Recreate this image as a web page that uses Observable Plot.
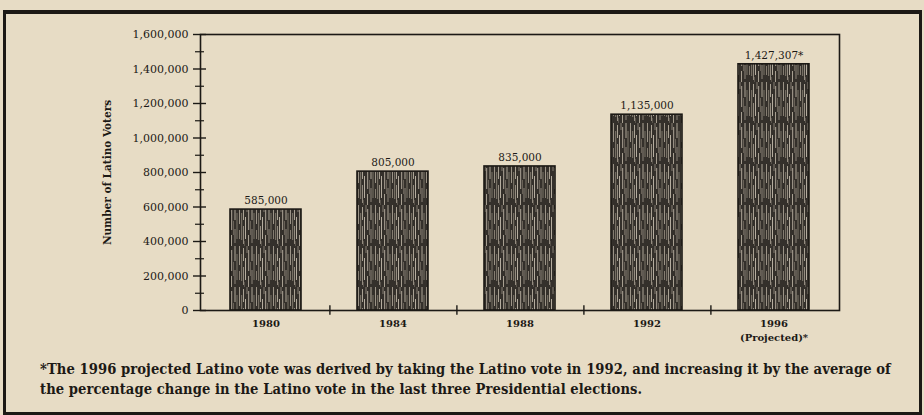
<!DOCTYPE html>
<html>
<head>
<meta charset="utf-8">
<script src="https://cdn.jsdelivr.net/npm/d3@7"></script>
<script src="https://cdn.jsdelivr.net/npm/@observablehq/plot@0.6"></script>
<style>
  html, body { margin: 0; padding: 0; background: #e7dcc5; }
  body { width: 924px; height: 415px; position: relative; overflow: hidden; font-family: "DejaVu Serif Condensed", "DejaVu Serif", serif; color: #1c1915; }
  #box { position: absolute; left: 3px; top: 10px; width: 913px; height: 398px; border: 3px solid #1c1915; border-top-width: 4px; }
  #chart { position: absolute; left: 0; top: 0; }
  #note { position: absolute; left: 40px; top: 359px; width: 880px; font-size: 14.6px; font-weight: bold; line-height: 20px; letter-spacing: 0.08px; white-space: nowrap; }
</style>
</head>
<body>
<div id="box"></div>
<div id="chart"></div>
<div id="note">*The 1996 projected Latino vote was derived by taking the Latino vote in 1992, and increasing it by the average of<br>the percentage change in the Latino vote in the last three Presidential elections.</div>
<script>
const years = ["1980", "1984", "1988", "1992", "1996"];
const voters = [585000, 805000, 835000, 1135000, 1427307];
const valueLabels = ["585,000", "805,000", "835,000", "1,135,000", "1,427,307*"];
const yearLabels = ["1980", "1984", "1988", "1992", "1996\n(Projected)*"];
const majorTicks = [0, 200000, 400000, 600000, 800000, 1000000, 1200000, 1400000, 1600000];
const minorTicks = [100000, 300000, 500000, 700000, 900000, 1100000, 1300000, 1500000];
const yLabel = "Number of Latino Voters";

const data = years.map((y, i) => ({year: y, value: voters[i], label: valueLabels[i]}));

const W = 924, H = 345, mL = 200, mR = 85, mT = 34, mB = 35;
const halfStep = (W - mL - mR) / years.length / 2;
const ink = "#1c1915";
const font = "'DejaVu Serif', serif";

const chart = Plot.plot({
  width: W, height: H,
  marginLeft: mL, marginRight: mR, marginTop: mT, marginBottom: mB,
  style: {background: "transparent", fontFamily: font, color: ink, overflow: "visible"},
  x: {domain: years, paddingInner: 0.44, paddingOuter: 0.22},
  y: {domain: [0, 1600000]},
  marks: [
    Plot.rectY(data, {x: "year", y: "value", fill: "url(#hatch)", stroke: ink, strokeWidth: 1.6}),
    Plot.frame({stroke: ink, strokeWidth: 1.6}),
    Plot.text(data, {x: "year", y: "value", text: "label", dy: -9, fontSize: 10.5, fill: ink}),
    Plot.axisY(majorTicks, {text: null, label: null, tickSize: 13, dx: 6, stroke: ink, strokeWidth: 1.4}),
    Plot.axisY(minorTicks, {text: null, label: null, tickSize: 9, dx: 4, stroke: ink, strokeWidth: 1.2}),
    Plot.axisY(majorTicks, {tickSize: 0, tickPadding: 12, tickFormat: d3.format(","), fontSize: 11, fill: ink,
      label: yLabel, labelAnchor: "center", labelArrow: "none", labelOffset: 97}),
    Plot.ruleX(years.slice(0, 4), {x: d => d, y1: -28000, y2: 28000, dx: halfStep, stroke: ink, strokeWidth: 1.4}),
    Plot.axisX({tickSize: 0, tickPadding: 7, tickFormat: (d) => yearLabels[years.indexOf(d)], fontSize: 10, fontWeight: "bold", lineHeight: 1.35, fill: ink, label: null})
  ]
});

// hatch pattern for the bars
const svgNS = "http://www.w3.org/2000/svg";
const defs = document.createElementNS(svgNS, "defs");
defs.innerHTML = `
  <pattern id="hatch" patternUnits="userSpaceOnUse" width="17" height="41">
    <rect width="17" height="41" fill="#34302b"/>
    <rect x="1" y="0" width="1" height="19" fill="#9c9487"/>
    <rect x="1" y="25" width="1" height="9" fill="#857d71"/>
    <rect x="3" y="8" width="1.2" height="27" fill="#756e63"/>
    <rect x="5" y="2" width="1" height="13" fill="#aaa294"/>
    <rect x="5" y="21" width="1" height="18" fill="#948c80"/>
    <rect x="7" y="12" width="1" height="22" fill="#b4ac9e"/>
    <rect x="8.5" y="0" width="1" height="7" fill="#837b70"/>
    <rect x="10" y="4" width="1.2" height="21" fill="#989084"/>
    <rect x="10" y="30" width="1" height="11" fill="#a79f91"/>
    <rect x="12" y="16" width="1" height="14" fill="#686157"/>
    <rect x="13.5" y="0" width="1" height="15" fill="#afa799"/>
    <rect x="13.5" y="24" width="1" height="14" fill="#8c8478"/>
    <rect x="15.5" y="8" width="1" height="26" fill="#7c7569"/>
    <rect x="6" y="36" width="1" height="5" fill="#58524a"/>
  </pattern>`;
chart.insertBefore(defs, chart.firstChild);
chart.querySelectorAll("[aria-label='y-axis label'] text, g[aria-label='y-axis label']").forEach(t => { t.setAttribute("font-size", "10.5"); t.setAttribute("font-weight", "bold"); });
document.getElementById("chart").appendChild(chart);
</script>
</body>
</html>
